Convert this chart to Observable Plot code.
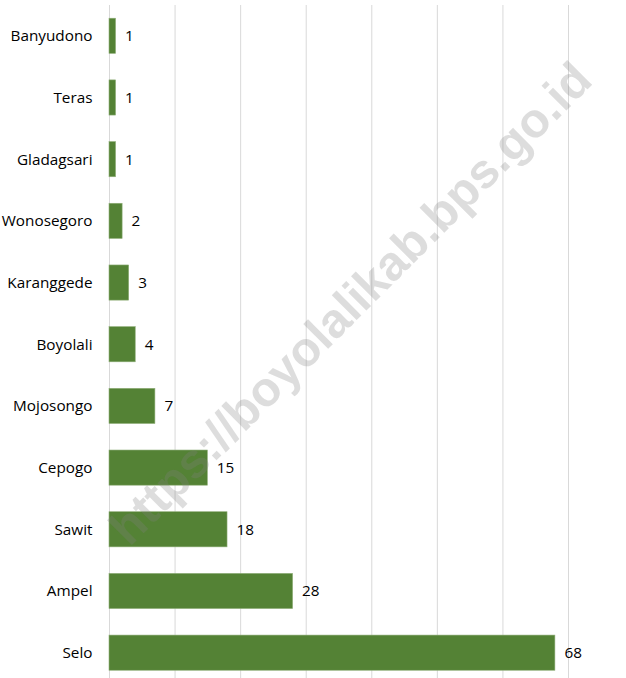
<!DOCTYPE html>
<html>
<head>
<meta charset="utf-8">
<script src="https://cdn.jsdelivr.net/npm/d3@7"></script>
<script src="https://cdn.jsdelivr.net/npm/@observablehq/plot@0.6"></script>
<style>
  html, body { margin: 0; padding: 0; background: #fff; overflow: hidden; }
  #chart { position: relative; width: 626px; height: 678px; }
  #chart svg { overflow: visible; }
</style>
</head>
<body>
<div id="chart"></div>
<script>
const categories = ["Banyudono", "Teras", "Gladagsari", "Wonosegoro", "Karanggede", "Boyolali", "Mojosongo", "Cepogo", "Sawit", "Ampel", "Selo"];
const values = [1, 1, 1, 2, 3, 4, 7, 15, 18, 28, 68];
const gridTicks = [0, 10, 20, 30, 40, 50, 60, 70];
const watermark = ["https://boyolalikab.bps.go.id"];

const data = categories.map((c, i) => ({ name: c, value: values[i] }));
const font = "'Open Sans', sans-serif";

const chart = Plot.plot({
  width: 626,
  height: 678,
  marginLeft: 109,
  marginRight: 58,
  marginTop: 5,
  marginBottom: 0,
  style: { fontFamily: font, background: "#fff", color: "#000" },
  x: { domain: [0, 70], axis: null },
  y: { domain: categories, paddingInner: 0.43, paddingOuter: 0.17, align: 0.63, round: false, axis: null },
  marks: [
    Plot.ruleX(gridTicks, { stroke: "#d9d9d9", strokeWidth: 1 }),
    Plot.barX(data, { x: "value", y: "name", fill: "#548235", stroke: "#8fae78", strokeWidth: 0.6 }),
    Plot.text(data, { x: "value", y: "name", text: d => String(d.value), textAnchor: "start", dx: 9, fontSize: 15.3, fill: "#000" }),
    Plot.axisY({ tickSize: 0, tickPadding: 17, fontSize: 15.3, fill: "#000", label: null }),
    Plot.text(watermark, {
      text: d => d,
      frameAnchor: "middle",
      dx: 12, dy: -38,
      rotate: -45,
      fontSize: 48.5, fontWeight: "bold", fontFamily: "'Liberation Sans', Arial, sans-serif",
      fill: "#808080", fillOpacity: 0.27
    })
  ]
});
document.getElementById("chart").appendChild(chart);
</script>
</body>
</html>
